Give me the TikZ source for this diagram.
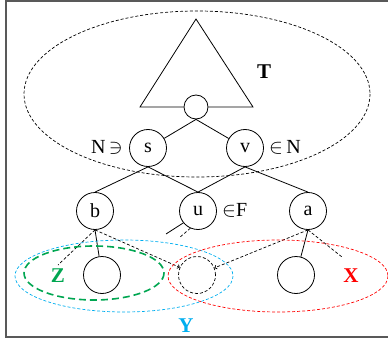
\documentclass[tikz,border=0pt]{standalone}
\usepackage{fontspec}
\setmainfont{Liberation Serif}
\usetikzlibrary{arrows.meta}
\definecolor{verde}{RGB}{0,166,81}
\definecolor{azzurro}{RGB}{0,174,239}
\definecolor{rosso}{RGB}{255,0,0}
\begin{document}
\begin{tikzpicture}[
  x=1pt, y=-1pt,
  font=\fontsize{20}{22}\selectfont,
  filo/.style={draw=black, line width=0.8pt},
  punteggiato/.style={draw=black, line width=0.7pt, dash pattern=on 3pt off 2pt},
  freccia/.style={punteggiato, -{Straight Barb[length=1.8pt, width=4pt]}},
  nodo/.style={circle, draw=black, line width=0.8pt, minimum size=37pt, inner sep=0pt},
  radice/.style={circle, draw=black, line width=0.8pt, minimum size=24pt, inner sep=0pt},
  etichetta/.style={inner sep=1pt},
  grande/.style={inner sep=1pt, font=\fontsize{21}{23}\selectfont\bfseries}
]
\useasboundingbox (0,0) rectangle (388,342);

%--------------------------------------------------------------
% Cornice
%--------------------------------------------------------------
\draw[draw=black!65, line width=1.4pt] (6,1) rectangle (391,337);

%--------------------------------------------------------------
% Sottoalbero T
%--------------------------------------------------------------
\draw[punteggiato] (197,94) ellipse [x radius=173, y radius=83];
\node[radice] (r) at (196,107) {};
\draw[filo] (r.west) -- (140,107) -- (196,19) -- (253,107) -- (r.east);
\node[grande] (T) at (264,72) {T};

%--------------------------------------------------------------
% Nodi s, v, b, u, a
%--------------------------------------------------------------
\node[nodo] (s) at (148,148) {s};
\node[nodo] (v) at (245,148) {v};
\node[nodo] (b) at (95,211) {b};
\node[nodo] (u) at (198,211) {u};
\node[nodo] (a) at (308,211) {a};
\node[etichetta, anchor=east] (ns) at (124,147) {N\,$\ni$};
\node[etichetta, anchor=west] (vn) at (268,147) {$\in$\,N};
\node[etichetta, anchor=west] (uf) at (221,210) {$\in$F};

\draw[filo] (r.south) -- (s);
\draw[filo] (r.south) -- (v);
\draw[filo] (s.south) -- (b.north);
\draw[filo] (s.south) -- (u.north);
\draw[filo] (v.south) -- (u.north);
\draw[filo] (v.south) -- (a.north);
% tratti sotto u
\coordinate (u1) at (166,234);
\coordinate (u2) at (179,238);
\draw[filo] (u.-141) -- (u1);
\draw[punteggiato] (u.-114) -- (u2);

%--------------------------------------------------------------
% Foglie e insiemi X, Y, Z
%--------------------------------------------------------------
\node[nodo] (f1) at (102,275) {};
\node[nodo, dash pattern=on 3pt off 2pt, line width=0.7pt] (f2) at (197,275) {};
\node[nodo] (f3) at (296,275) {};
\coordinate (z1) at (58,265);
\coordinate (x1) at (342,257);

\draw[filo] (b.south) -- (f1);
\draw[punteggiato] (b.south) -- (z1);
\draw[freccia] (b.south) -- (f2);
\draw[filo] (a.south) -- (f3);
\draw[punteggiato] (a.south) -- (x1);
\draw[freccia] (a.south) -- (f2);

\draw[draw=verde, line width=1.6pt, dash pattern=on 7pt off 4pt] (94,273) ellipse [x radius=70, y radius=27];
\draw[draw=azzurro, line width=0.7pt, dash pattern=on 3pt off 2pt] (124,276) ellipse [x radius=109, y radius=36];
\draw[draw=rosso, line width=0.7pt, dash pattern=on 3pt off 2pt] (278,276) ellipse [x radius=110, y radius=36];
\node[grande, text=verde] (Z) at (58,276) {Z};
\node[grande, text=rosso] (X) at (351,276) {X};
\node[grande, text=azzurro] (Y) at (186,326) {Y};

\end{tikzpicture}
\end{document}
